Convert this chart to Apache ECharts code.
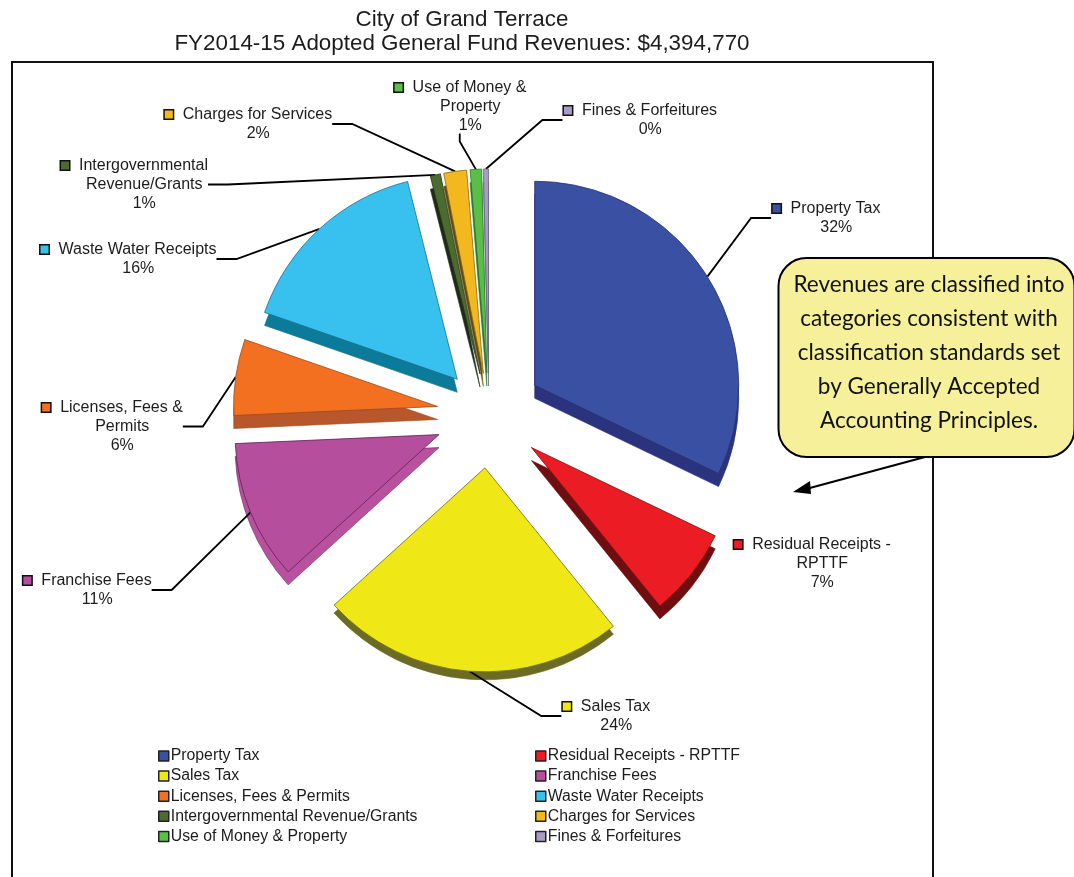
<!DOCTYPE html>
<html><head><meta charset="utf-8">
<style>html,body{margin:0;padding:0;background:#fff}#c{width:1074px;height:877px}</style>
<script src="https://cdn.jsdelivr.net/npm/echarts@6/dist/echarts.min.js"></script>
</head><body><div id="c"></div>
<script>
const categories = ['Property Tax','Residual Receipts - RPTTF','Sales Tax','Franchise Fees','Licenses, Fees & Permits','Waste Water Receipts','Intergovernmental Revenue/Grants','Charges for Services','Use of Money & Property','Fines & Forfeitures'];
const values = [32.0,7.0,24.0,11.0,6.0,15.7,0.8,1.8,0.9,0.4];
const labelLines = [['Property Tax'],['Residual Receipts -','RPTTF'],['Sales Tax'],['Franchise Fees'],['Licenses, Fees &','Permits'],['Waste Water Receipts'],['Intergovernmental','Revenue/Grants'],['Charges for Services'],['Use of Money &','Property'],['Fines & Forfeitures']];
const topColors = ['#3A50A2','#EC1C24','#EFE816','#B54F9D','#F37021','#38C0EE','#4B6B2F','#F2B81D','#5ABF47','#A89CC4'];
const sideColors = ['#2B337F','#6E0E10','#6B6B25','#B8529F','#B8562C','#0C7A99','#1F2B17','#5E4A18','#2C6E2C','#5A5570'];
const edgeColors = ['#27306F','#7A1014','#6E6C1E','#5E1F57','#9A4A1E','#1E6F8A','#26351A','#8A6A14','#2F7A2A','#6A6488'];
const explodeBy = [54,54,54,54,52,47,41,41,41,41];
const depthBy = [13,13,8,13,13,13,13,13,13,13];
const labelPositions = [[829,199],[815,535],[609,697],[90,571],[115,398],[131,240],[137,156],[251,105],[463,78],[643,101]];
const legendLeft = [0,2,4,6,8], legendRight = [1,3,5,7,9];

const total = values.reduce((a,b)=>a+b,0);
const FONT = '"Liberation Sans", Arial, sans-serif';
const CX = 489, CY = 414;

function labelFor(i){
  const rich = {
    m:{width:8,height:8,backgroundColor:topColors[i],borderColor:'#111',borderWidth:1.5},
    g:{width:10,height:8},
    p:{width:19.5,height:8},
    t:{fontFamily:FONT,fontSize:16,color:'#1c1c1c',lineHeight:19}
  };
  const pct = Math.round(values[i]/total*100)+'%';
  const lines = labelLines[i].concat([pct]).map((s,k)=> (k===0?'{m|}{g|}':'{p|}')+'{t|'+s+'}');
  return {show:true,position:'outside',formatter:lines.join('\n'),rich,align:'center',padding:[0,5,0,0]};
}
function filler(v){
  return {name:'',value:v,itemStyle:{color:'rgba(0,0,0,0)',borderWidth:0},label:{show:false},labelLine:{show:false}};
}
function sliceSeries(i,isTop){
  const before = values.slice(0,i).reduce((a,b)=>a+b,0);
  const after = total-before-values[i];
  const mid = (before+values[i]/2)/total*2*Math.PI;
  const ox = Math.sin(mid)*explodeBy[i], oy = -Math.cos(mid)*explodeBy[i];
  const item = {name:categories[i],value:values[i],
    itemStyle:{color:(isTop?topColors:sideColors)[i],borderColor:edgeColors[i],borderWidth:isTop?0.8:0.6},
    label:isTop?labelFor(i):{show:false},
    labelLine:{show:isTop && i!==1}};
  return {type:'pie',z:isTop?6:3,startAngle:90,clockwise:true,
    center:[CX+ox,CY+oy+(isTop?0:depthBy[i])],radius:[0,204],
    animation:false,silent:true,emphasis:{disabled:true},avoidLabelOverlap:false,
    data:[filler(before),item,filler(after)],
    labelLine:{show:isTop,length:20,length2:i===8?8:20,smooth:false,lineStyle:{color:'#000',width:1.8}},
    labelLayout:isTop?function(p){
      return p.dataIndex===1?{x:labelPositions[i][0],y:labelPositions[i][1],align:'center',verticalAlign:'top',hideOverlap:false}:{};
    }:undefined
  };
}
function legendOf(idx,left){
  return {left,top:743,orient:'vertical',selectedMode:false,itemWidth:10,itemHeight:10,itemGap:4.1,
    icon:'rect',textStyle:{fontFamily:FONT,fontSize:15.8,color:'#1c1c1c',padding:[0,0,0,-3]},
    data:idx.map(i=>({name:categories[i],itemStyle:{color:topColors[i],borderColor:'#222',borderWidth:1.5}}))};
}
const chart = echarts.init(document.getElementById('c'),null,{renderer:'canvas'});
chart.setOption({
  backgroundColor:'#fff',animation:false,
  title:{text:'City of Grand Terrace\nFY2014-15 Adopted General Fund Revenues: $4,394,770',left:457,top:3,textAlign:'center',
    textStyle:{fontFamily:FONT,fontSize:22.4,fontWeight:'normal',color:'#1c1c1c',lineHeight:24}},
  legend:[legendOf(legendLeft,153),legendOf(legendRight,530)],
  series:categories.map((c,i)=>sliceSeries(i,true)).concat(categories.map((c,i)=>sliceSeries(i,false))),
  graphic:[
    {type:'rect',z:0,shape:{x:12,y:62,width:921,height:830},style:{fill:'none',stroke:'#111',lineWidth:2}},
    {type:'line',z:20,shape:{x1:925,y1:457,x2:806,y2:489},style:{stroke:'#000',lineWidth:2}},
    {type:'polygon',z:20,shape:{points:[[793,492],[810,481],[811,494]]},style:{fill:'#000'}},
    {type:'rect',z:21,shape:{x:778.5,y:258,width:296,height:199,r:28},style:{fill:'#F7F09B',stroke:'#000',lineWidth:2}},
    {type:'text',z:22,x:929,y:268,style:{text:'Revenues are classified into\ncategories consistent with\nclassification standards set\nby Generally Accepted\nAccounting Principles.',
      fontFamily:'Lato',fontSize:22.5,lineHeight:34,align:'center',fill:'#111'}}
  ]
});
</script></body></html>
